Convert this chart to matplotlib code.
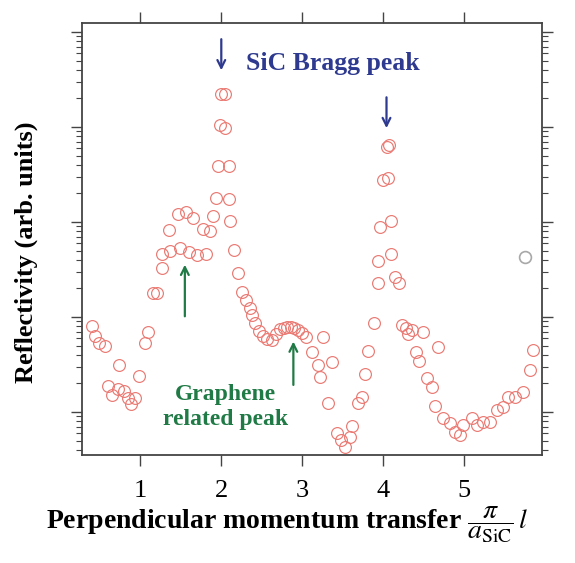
import numpy as np
import matplotlib
matplotlib.use("Agg")
import matplotlib.pyplot as plt
from matplotlib.ticker import LogLocator, NullFormatter

plt.rcParams['font.family'] = ['Liberation Serif', 'DejaVu Serif']
plt.rcParams['mathtext.fontset'] = 'stix'

# reflectivity scan (x in pi/a_SiC * l, y in arb. units)
l_vals = [0.40, 0.44, 0.49, 0.56, 0.60, 0.65, 0.72, 0.74, 0.80, 0.85, 0.89, 0.93,
          0.99, 1.06, 1.10, 1.16, 1.20, 1.27, 1.27, 1.35, 1.37, 1.46, 1.49, 1.56,
          1.60, 1.65, 1.70, 1.77, 1.81, 1.86, 1.90, 1.93, 1.96, 1.98, 2.00, 2.04,
          2.05, 2.09, 2.09, 2.11, 2.16, 2.21, 2.26, 2.31, 2.35, 2.38, 2.42, 2.46,
          2.51, 2.57, 2.63, 2.67, 2.72, 2.77, 2.81, 2.86, 2.90, 2.95, 3.00, 3.05,
          3.12, 3.19, 3.22, 3.26, 3.32, 3.37, 3.43, 3.48, 3.53, 3.59, 3.62, 3.69,
          3.74, 3.78, 3.81, 3.88, 3.93, 3.94, 3.96, 4.00, 4.04, 4.07, 4.06, 4.09,
          4.10, 4.15, 4.19, 4.23, 4.28, 4.31, 4.36, 4.40, 4.44, 4.49, 4.54, 4.60,
          4.64, 4.68, 4.74, 4.83, 4.89, 4.95, 4.99, 5.10, 5.16, 5.23, 5.32, 5.41,
          5.48, 5.54, 5.63, 5.72, 5.81, 5.85]
refl = [8.04, 6.31, 5.33, 4.95, 1.88, 1.51, 1.75, 3.12, 1.66, 1.40, 1.21, 1.40,
        2.39, 5.33, 6.95, 17.9, 17.9, 32.8, 46.0, 82.4, 49.5, 121, 53.2, 127,
        48.3, 110, 44.9, 84.4, 46.0, 80.4, 116, 179, 388, 1050, 2225, 2225,
        976, 388, 175, 102, 50.7, 29.0, 18.3, 15.1, 12.4, 10.5, 8.65, 7.12,
        6.31, 5.87, 5.73, 6.62, 7.48, 7.66, 7.85, 7.85, 7.66, 7.30, 6.79, 6.16,
        4.28, 3.12, 2.34, 6.16, 1.24, 3.36, 0.601, 0.507, 0.428, 0.546, 0.712, 1.24,
        1.44, 2.51, 4.39, 8.65, 22.8, 38.8, 88.6, 277, 616, 647, 290, 46.0,
        102, 26.4, 22.8, 8.24, 7.66, 6.62, 7.30, 4.28, 3.44, 6.95, 2.28, 1.83,
        1.16, 4.83, 0.865, 0.766, 0.616, 0.573, 0.730, 0.865, 0.730, 0.785, 0.785, 1.05,
        1.13, 1.44, 1.44, 1.62, 2.77, 4.49]

# stray grey marker
grey_l = [5.75]
grey_r = [42.8]

fig = plt.figure(figsize=(5.75, 5.63), dpi=100)
ax = fig.add_axes([0.1426, 0.1918, 0.800, 0.7673])

ax.plot(l_vals, refl, 'o', ms=8.5, mfc='none', mec='#ea7a73', mew=0.85)
ax.plot(grey_l, grey_r, 'o', ms=8.5, mfc='none', mec='#a8a8a8', mew=1.2)

ax.set_yscale('log')
ax.set_xlim(0.28, 5.96)
ax.set_ylim(0.352, 12450)

ax.set_xticks([1, 2, 3, 4, 5])
ax.yaxis.set_major_locator(LogLocator(base=10, numticks=10))
ax.yaxis.set_minor_locator(LogLocator(base=10, subs=np.arange(2, 10), numticks=20))
ax.yaxis.set_major_formatter(NullFormatter())
ax.yaxis.set_minor_formatter(NullFormatter())
ax.tick_params(axis='x', which='major', direction='out', length=8, width=1.0,
               top=True, labeltop=False, labelsize=19, color='#444444', pad=10)
ax.tick_params(axis='y', which='major', direction='out', length=8, width=1.0,
               right=True, color='#444444')
ax.tick_params(axis='y', which='minor', direction='out', length=4, width=0.8,
               right=True, color='#444444')
for s in ax.spines.values():
    s.set_color('#444444')
    s.set_linewidth(1.3)

ax.set_ylabel('Reflectivity (arb. units)', fontsize=19, fontweight='bold')
ax.yaxis.set_label_coords(-0.096, 0.47)
ax.set_xlabel(r'Perpendicular momentum transfer $\dfrac{\pi}{a_{\rm SiC}}\,l$',
              fontsize=20, fontweight='bold', labelpad=6)
ax.xaxis.set_label_coords(0.445, -0.115)

# annotations
blue = '#2e3a8f'
green = '#1f7a45'
ax.text(2.3, 4700, 'SiC Bragg peak', color=blue, fontsize=18.5, fontweight='bold',
        va='center', ha='left')
ax.annotate('', xy=(2.0, 3700), xytext=(2.0, 9000),
            arrowprops=dict(arrowstyle='->', color=blue, lw=1.6, mutation_scale=14))
ax.annotate('', xy=(4.04, 910), xytext=(4.04, 2200),
            arrowprops=dict(arrowstyle='->', color=blue, lw=1.6, mutation_scale=14))
ax.annotate('', xy=(1.55, 38), xytext=(1.55, 9.5),
            arrowprops=dict(arrowstyle='->', color=green, lw=1.6, mutation_scale=14))
ax.annotate('', xy=(2.89, 5.9), xytext=(2.89, 1.8),
            arrowprops=dict(arrowstyle='->', color=green, lw=1.6, mutation_scale=14))
ax.text(2.05, 1.12, 'Graphene\nrelated peak', color=green, fontsize=17,
        fontweight='bold', ha='center', va='center', linespacing=1.25)

fig.savefig('out.png', dpi=100)
